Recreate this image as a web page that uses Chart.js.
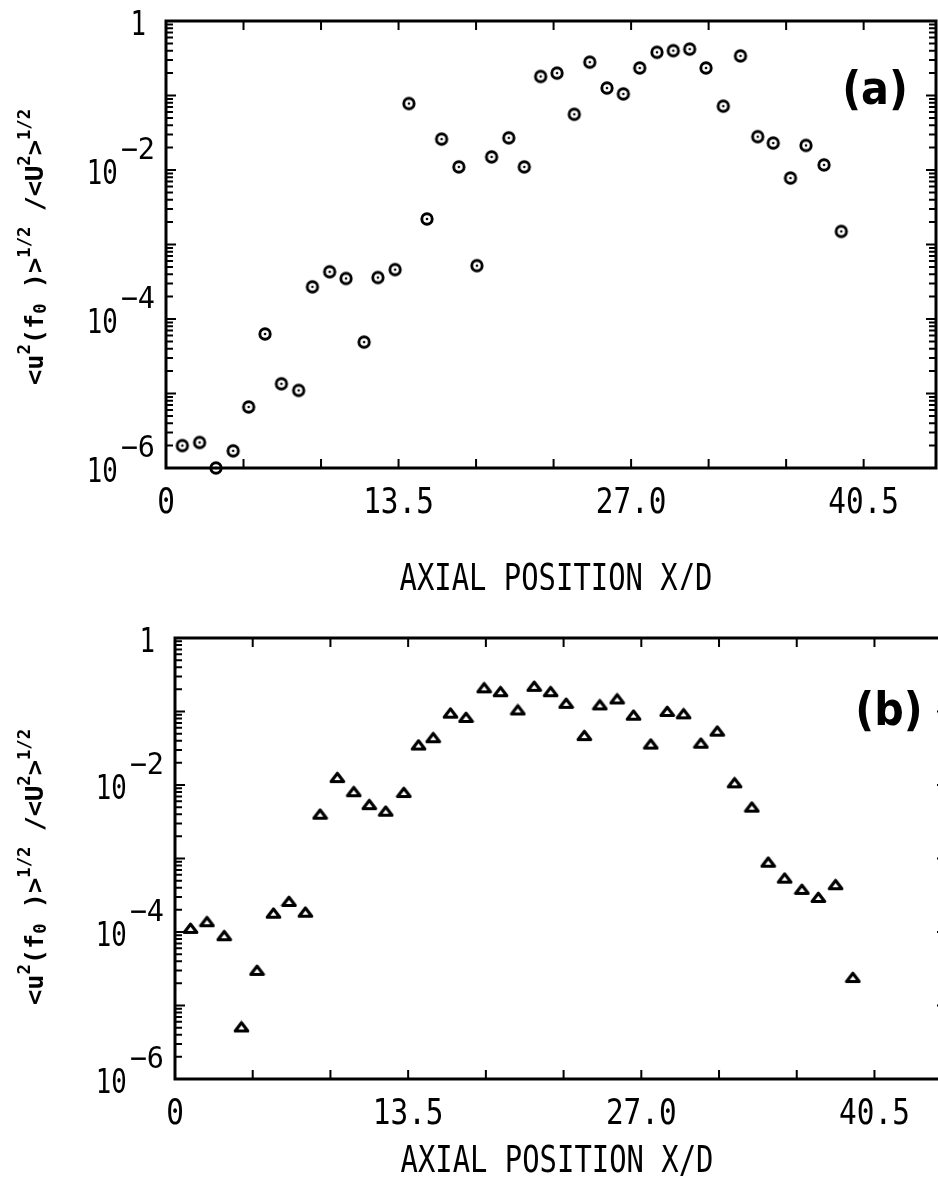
<!DOCTYPE html>
<html>
<head>
<meta charset="utf-8">
<script src="https://cdn.jsdelivr.net/npm/chart.js@4.4.1/dist/chart.umd.min.js"></script>
<style>
	html, body { margin: 0; padding: 0; background: #fff; overflow: hidden; }
	#wrap { position: relative; width: 938px; height: 1180px; overflow: hidden; }
	#wrap canvas { position: absolute; left: 0; }
	#graph-a { top: 0; }
	#graph-b { top: 590px; }
</style>
</head>
<body>
<div id="wrap">
	<canvas id="graph-a" width="960" height="590"></canvas>
	<canvas id="graph-b" width="960" height="590"></canvas>
</div>
<script>
// ---- data ----
const xA = [0.95, 1.95, 2.9, 3.9, 4.8, 5.75, 6.7, 7.7, 8.5, 9.5, 10.45, 11.5, 12.3, 13.3, 14.1, 15.15, 16.0, 17.0, 18.05, 18.9, 19.9, 20.8, 21.75, 22.7, 23.7, 24.6, 25.6, 26.55, 27.5, 28.5, 29.45, 30.4, 31.35, 32.35, 33.35, 34.35, 35.25, 36.25, 37.15, 38.2, 39.2];
const yA = [2.0e-6, 2.2e-6, 1.0e-6, 1.7e-6, 6.6e-6, 6.3e-5, 1.35e-5, 1.1e-5, 2.7e-4, 4.3e-4, 3.5e-4, 4.9e-5, 3.6e-4, 4.6e-4, 7.8e-2, 2.2e-3, 2.6e-2, 1.1e-2, 5.2e-4, 1.5e-2, 2.7e-2, 1.1e-2, 0.18, 0.20, 0.056, 0.28, 0.126, 0.105, 0.234, 0.38, 0.40, 0.42, 0.234, 0.072, 0.34, 0.028, 0.023, 7.8e-3, 0.0214, 0.0117, 1.5e-3];

const xB = [0.9, 1.85, 2.85, 3.85, 4.75, 5.7, 6.6, 7.55, 8.4, 9.4, 10.35, 11.25, 12.2, 13.25, 14.1, 14.95, 15.95, 16.85, 17.9, 18.85, 19.85, 20.8, 21.75, 22.65, 23.7, 24.6, 25.6, 26.55, 27.55, 28.5, 29.45, 30.45, 31.4, 32.4, 33.4, 34.35, 35.3, 36.3, 37.25, 38.25, 39.25];
const yB = [1.12e-4, 1.38e-4, 8.9e-5, 5.1e-6, 3.0e-5, 1.8e-4, 2.6e-4, 1.86e-4, 4.0e-3, 1.26e-2, 8.1e-3, 5.4e-3, 4.4e-3, 7.9e-3, 3.5e-2, 4.4e-2, 9.5e-2, 8.3e-2, 0.21, 0.186, 0.105, 0.22, 0.186, 0.129, 0.047, 0.123, 0.148, 0.089, 0.036, 0.10, 0.093, 0.037, 0.054, 0.0107, 5.0e-3, 8.9e-4, 5.4e-4, 3.8e-4, 2.95e-4, 4.4e-4, 2.4e-5];

const xTickVals = [0, 13.5, 27, 40.5];
const xTickText = ['0', '13.5', '27.0', '40.5'];
const xMinorStep = 4.5;
const yTickExps = [0, -2, -4, -6];
const X_MAX = 44.7;

const xTitle = 'AXIAL POSITION X/D';
// y title pieces: [text, 0 = normal, -1 = superscript, 1 = subscript]
const yTitle = [['<u', 0], ['2', -1], ['(', 0], ['f', 0], ['0', 1], [' )>', 0], ['1/2', -1], [' /<U', 0], ['2', -1], ['>', 0], ['1/2', -1]];

const MONO = '"DejaVu Sans Mono", "Liberation Mono", monospace';

// ---- markers ----
function ringDot() {
	const c = document.createElement('canvas');
	c.width = 16; c.height = 16;
	const g = c.getContext('2d');
	g.strokeStyle = '#000';
	g.lineWidth = 2.9;
	g.beginPath(); g.arc(8, 8, 5.2, 0, Math.PI * 2); g.stroke();
	g.fillStyle = '#000';
	g.beginPath(); g.arc(8, 8, 1.3, 0, Math.PI * 2); g.fill();
	return c;
}

function triMark() {
	const c = document.createElement('canvas');
	c.width = 17; c.height = 13;
	const g = c.getContext('2d');
	g.strokeStyle = '#000';
	g.lineWidth = 3.1;
	g.lineJoin = 'round';
	g.beginPath(); g.moveTo(8.5, 2.2); g.lineTo(14.8, 10.5); g.lineTo(2.2, 10.5); g.closePath(); g.stroke();
	return c;
}

// ---- text helpers ----
function drawText(ctx, s, x, y, font, sx, align) {
	ctx.save();
	ctx.font = font;
	ctx.textAlign = 'left';
	ctx.textBaseline = 'alphabetic';
	const w = ctx.measureText(s).width * sx;
	const x0 = align === 'center' ? x - w / 2 : align === 'right' ? x - w : x;
	ctx.translate(x0, y);
	ctx.scale(sx, 1);
	ctx.fillText(s, 0, 0);
	ctx.restore();
	return w;
}

function textWidth(ctx, s, font, sx) {
	ctx.save();
	ctx.font = font;
	const w = ctx.measureText(s).width * sx;
	ctx.restore();
	return w;
}

function drawYTitle(ctx, cx, cy, len) {
	const big = 'bold 25px ' + MONO;
	const small = 'bold 17px ' + MONO;
	ctx.save();
	ctx.fillStyle = '#000';
	ctx.textBaseline = 'alphabetic';
	let total = 0;
	yTitle.forEach(([t, k]) => {
		ctx.font = k === 0 ? big : small;
		total += ctx.measureText(t).width;
	});
	const k = len / total;
	ctx.translate(cx, cy);
	ctx.rotate(-Math.PI / 2);
	ctx.scale(k, 1);
	let u = -total / 2;
	yTitle.forEach(([t, kind]) => {
		ctx.font = kind === 0 ? big : small;
		const dy = kind === -1 ? -13 : kind === 1 ? 3 : 0;
		ctx.fillText(t, u, dy);
		u += ctx.measureText(t).width;
	});
	ctx.restore();
}

// ---- frame, ticks and labels ----
const framePlugin = {
	id: 'frame',
	beforeDatasetsDraw(chart, args, opts) {
		const { ctx, chartArea: a, scales: { x, y } } = chart;
		ctx.save();
		ctx.strokeStyle = '#000';
		ctx.fillStyle = '#000';

		// border
		ctx.lineWidth = 3;
		ctx.lineCap = 'square';
		ctx.beginPath();
		ctx.moveTo(a.right, a.top);
		ctx.lineTo(a.left, a.top);
		ctx.lineTo(a.left, a.bottom);
		ctx.lineTo(a.right, a.bottom);
		ctx.lineTo(a.right, a.top);
		ctx.stroke();

		// x ticks, inward on top and bottom
		ctx.lineWidth = 2;
		ctx.lineCap = 'butt';
		ctx.beginPath();
		for (let v = xMinorStep; v < X_MAX; v += xMinorStep) {
			const px = x.getPixelForValue(v);
			ctx.moveTo(px, a.bottom); ctx.lineTo(px, a.bottom - 9);
			ctx.moveTo(px, a.top); ctx.lineTo(px, a.top + 9);
		}
		ctx.stroke();

		// log ticks on left and right
		ctx.beginPath();
		for (let e = -6; e <= 0; e++) {
			for (let m = 1; m <= 9; m++) {
				const v = m * Math.pow(10, e);
				if (v > 1.0000001) break;
				const py = y.getPixelForValue(v);
				const len = m === 1 ? 10 : 7;
				ctx.moveTo(a.left, py); ctx.lineTo(a.left + len, py);
				ctx.moveTo(a.right, py); ctx.lineTo(a.right - len, py);
			}
		}
		ctx.stroke();

		// x tick labels
		const xFont = '35px ' + MONO;
		xTickVals.forEach((v, i) => {
			drawText(ctx, xTickText[i], x.getPixelForValue(v), a.bottom + 45, xFont, 0.84, 'center');
		});

		// y tick labels, 10 with raised exponent
		const baseFont = '33px ' + MONO;
		const expFont = '30px ' + MONO;
		yTickExps.forEach(e => {
			const py = y.getPixelForValue(Math.pow(10, e));
			if (e === 0) {
				drawText(ctx, '1', a.left - 20, py + 14, baseFont, 0.78, 'right');
				return;
			}
			const ex = '\u2212' + (-e);
			const w2 = textWidth(ctx, ex, expFont, 0.95);
			drawText(ctx, ex, a.left - 11, py - 11, expFont, 0.95, 'right');
			drawText(ctx, '10', a.left - 14 - w2, py + 14, baseFont, 0.78, 'right');
		});

		// axis titles
		drawText(ctx, xTitle, opts.titleX, opts.titleY, '38px ' + MONO, 0.76, 'center');
		drawYTitle(ctx, 43, opts.yTitleMid, 276);

		// panel label
		drawText(ctx, opts.label, opts.labelX, opts.labelY, 'bold 47px "DejaVu Sans", sans-serif', 0.88, 'center');
		ctx.restore();
	}
};

function makeChart(id, xs, ys, mark, pad, frameOpts) {
	const canvas = document.getElementById(id);
	return new Chart(canvas, {
		type: 'scatter',
		data: {
			datasets: [{
				data: xs.map((v, i) => ({ x: v, y: ys[i] })),
				pointStyle: mark,
				pointRadius: 6,
				clip: false,
			}]
		},
		options: {
			responsive: false,
			animation: false,
			events: [],
			layout: { padding: pad },
			scales: {
				x: { type: 'linear', min: 0, max: X_MAX, display: false },
				y: { type: 'logarithmic', min: 1e-6, max: 1, display: false }
			},
			plugins: {
				legend: { display: false },
				tooltip: { enabled: false },
				frame: frameOpts
			}
		},
		plugins: [framePlugin]
	});
}

const chartA = makeChart('graph-a', xA, yA, ringDot(),
	{ left: 166, top: 21, right: 24, bottom: 122 },
	{ label: '(a)', labelX: 875, labelY: 104, titleX: 556, titleY: 590, yTitleMid: 247 });

const chartB = makeChart('graph-b', xB, yB, triMark(),
	{ left: 175, top: 48, right: 13, bottom: 101 },
	{ label: '(b)', labelX: 889, labelY: 135, titleX: 557, titleY: 582, yTitleMid: 277 });
</script>
</body>
</html>
